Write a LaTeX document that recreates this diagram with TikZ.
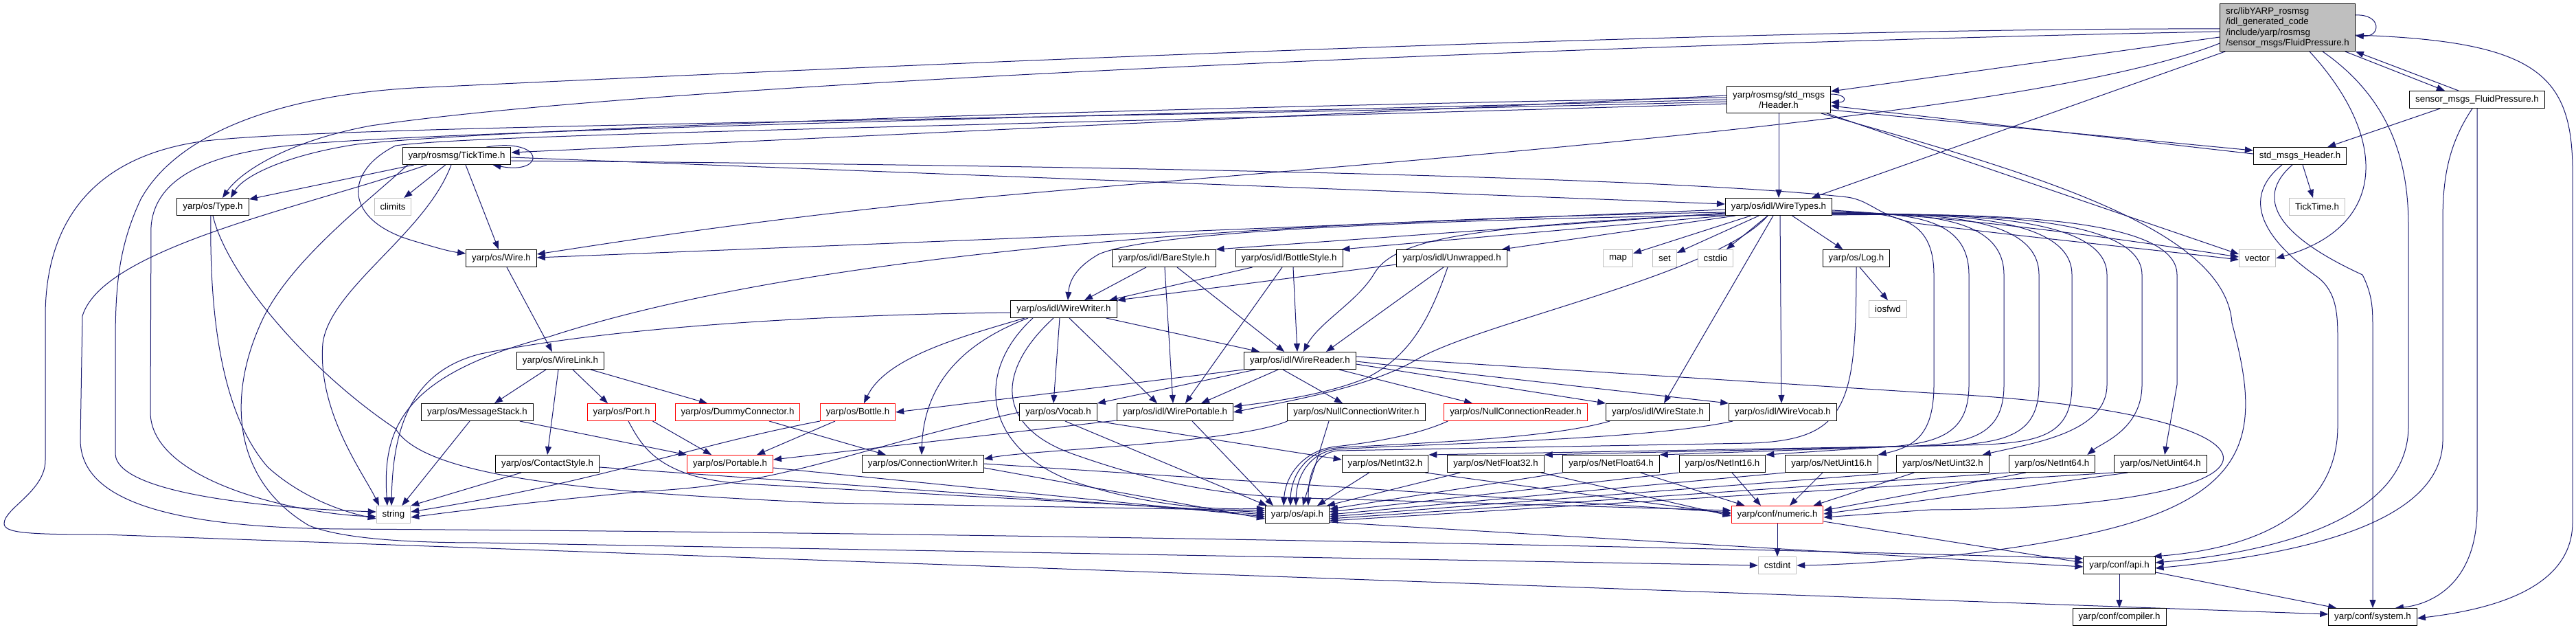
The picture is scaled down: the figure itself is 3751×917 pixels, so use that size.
\documentclass[tikz,border=0pt]{standalone}
\usepackage{fontspec}
\setmainfont{Liberation Sans}
\usetikzlibrary{arrows.meta,calc}
\definecolor{edgec}{HTML}{191970}
\definecolor{greyseven}{HTML}{BFBFBF}
\newcommand\nodefont{\fontsize{13.3}{15.5}\selectfont}
\pgfdeclarelayer{bglayer}
\pgfdeclarelayer{edgelayer}
\pgfsetlayers{bglayer,edgelayer,main}
\tikzset{
  fbox/.style={draw=black, line width=1pt, fill=white, minimum height=25pt, inner xsep=8.5pt, inner ysep=0pt, font=\nodefont, text=black},
  gbox/.style={fbox, draw=greyseven},
  rbox/.style={fbox, draw=red},
  mainbox/.style={fbox, fill=greyseven, align=left, minimum height=69pt},
  dep/.style={draw=edgec, line width=1pt, -{Triangle[length=12pt,width=9pt]}},
}
\begin{document}
\begin{tikzpicture}[x=1pt,y=-1pt]
\begin{pgfonlayer}{bglayer}
\fill[white] (0,0) rectangle (3751,917);
\end{pgfonlayer}
\useasboundingbox (0,0) rectangle (3751,917);
% ---------------- nodes
\node[mainbox] (fp) at (3331,40) {src/libYARP\_rosmsg\\/idl\_generated\_code\\/include/yarp/rosmsg\\/sensor\_msgs/FluidPressure.h};
\node[fbox, align=center, minimum height=39pt] (hdr) at (2590,145) {yarp/rosmsg/std\_msgs\\/Header.h};
\node[fbox] (sfp) at (3607,145) {sensor\_msgs\_FluidPressure.h};
\node[fbox] (tick) at (665,227) {yarp/rosmsg/TickTime.h};
\node[fbox] (smh) at (3349,227) {std\_msgs\_Header.h};
\node[fbox] (type) at (310,301) {yarp/os/Type.h};
\node[gbox] (climits) at (572,301) {climits};
\node[fbox] (wtypes) at (2590,301) {yarp/os/idl/WireTypes.h};
\node[gbox] (tickx) at (3374,301) {TickTime.h};
\node[fbox] (wire) at (730,376) {yarp/os/Wire.h};
\node[fbox] (bare) at (1695,376) {yarp/os/idl/BareStyle.h};
\node[fbox] (bstyle) at (1877,376) {yarp/os/idl/BottleStyle.h};
\node[fbox] (unwr) at (2114,376) {yarp/os/idl/Unwrapped.h};
\node[gbox] (map) at (2356,376) {map};
\node[gbox] (set) at (2424,376) {set};
\node[gbox] (cstdio) at (2498,376) {cstdio};
\node[fbox] (log) at (2703,376) {yarp/os/Log.h};
\node[gbox] (vector) at (3287,376) {vector};
\node[fbox] (wwriter) at (1549,450) {yarp/os/idl/WireWriter.h};
\node[gbox] (iosfwd) at (2749,450) {iosfwd};
\node[fbox] (wlink) at (816,525) {yarp/os/WireLink.h};
\node[fbox] (wreader) at (1893,525) {yarp/os/idl/WireReader.h};
\node[fbox] (mstack) at (695,600) {yarp/os/MessageStack.h};
\node[rbox] (port) at (905,600) {yarp/os/Port.h};
\node[rbox] (dummy) at (1074,600) {yarp/os/DummyConnector.h};
\node[rbox] (bottle) at (1249,600) {yarp/os/Bottle.h};
\node[fbox] (vocab) at (1541,600) {yarp/os/Vocab.h};
\node[fbox] (wport) at (1711,600) {yarp/os/idl/WirePortable.h};
\node[fbox] (ncw) at (1975,600) {yarp/os/NullConnectionWriter.h};
\node[rbox] (ncr) at (2207,600) {yarp/os/NullConnectionReader.h};
\node[fbox] (wstate) at (2414,600) {yarp/os/idl/WireState.h};
\node[fbox] (wvocab) at (2596,600) {yarp/os/idl/WireVocab.h};
\node[fbox] (contact) at (797,675) {yarp/os/ContactStyle.h};
\node[rbox] (portable) at (1063,675) {yarp/os/Portable.h};
\node[fbox] (cwriter) at (1344,675) {yarp/os/ConnectionWriter.h};
\node[fbox] (ni32) at (2017,675) {yarp/os/NetInt32.h};
\node[fbox] (nf32) at (2178,675) {yarp/os/NetFloat32.h};
\node[fbox] (nf64) at (2346,675) {yarp/os/NetFloat64.h};
\node[fbox] (ni16) at (2508,675) {yarp/os/NetInt16.h};
\node[fbox] (nu16) at (2667,675) {yarp/os/NetUint16.h};
\node[fbox] (nu32) at (2829,675) {yarp/os/NetUint32.h};
\node[fbox] (ni64) at (2988,675) {yarp/os/NetInt64.h};
\node[fbox] (nu64) at (3146,675) {yarp/os/NetUint64.h};
\node[gbox] (string) at (573,749) {string};
\node[fbox] (osapi) at (1889,749) {yarp/os/api.h};
\node[rbox] (numeric) at (2588,749) {yarp/conf/numeric.h};
\node[gbox] (cstdint) at (2588,823) {cstdint};
\node[fbox] (confapi) at (3086,823) {yarp/conf/api.h};
\node[fbox] (compiler) at (3086,898) {yarp/conf/compiler.h};
\node[fbox] (system) at (3455,898) {yarp/conf/system.h};
% ---------------- edges
\begin{pgfonlayer}{edgelayer}
% main file
\draw[dep] ($(fp.east)+(0,-18)$) .. controls +(38,-2) and +(38,2) .. ($(fp.east)+(0,12)$);
\draw[dep] ($(fp.west)+(0,14)$) -- ($(hdr.east)+(0,-12)$);
\draw[dep] ($(fp.south west)+(8,0)$) -- ($(wtypes.north east)+(-30,0)$);
\draw[dep] ($(fp.west)+(0,23)$) .. controls (2950,175) and (2000,235) .. (1400,290) .. controls (1100,320) and (900,352) .. ($(wire.east)+(0,-6)$);
\draw[dep] ($(fp.west)+(0,6)$) .. controls (2500,60) and (1000,115) .. (540,183) .. controls (420,205) and (350,250) .. ($(type.north)+(14,0)$);
\draw[dep] ($(fp.west)+(0,2)$) .. controls (2500,40) and (1200,100) .. (624,127) .. controls (420,135) and (260,190) .. (205,290) .. controls (172,360) and (168,420) .. (168,500) -- (168,660) .. controls (168,720) and (400,740) .. ($(string.west)+(0,-4)$);
\draw[dep] ($(fp.south)+(32,0)$) .. controls (3478,200) and (3478,330) .. (vector.east);
\draw[dep] ($(fp.south)+(51,0)$) .. controls (3490,150) and (3507,250) .. (3507,330) -- (3507,620) .. controls (3507,760) and (3300,805) .. ($(confapi.east)+(0,-4)$);
\draw[dep] ($(fp.east)+(0,11)$) .. controls (3700,60) and (3748,110) .. (3746,260) -- (3746,760) .. controls (3746,860) and (3620,888) .. ($(system.east)+(0,2)$);
\draw[dep] ($(fp.south east)+(-15,0)$) -- ($(sfp.north)+(-47,0)$);
% sensor_msgs_FluidPressure.h
\draw[dep] ($(sfp.north)+(-27,0)$) -- (fp.south east);
\draw[dep] ($(sfp.south west)+(45,0)$) -- ($(smh.north east)+(-28,0)$);
\draw[dep] ($(sfp.south)+(-7,0)$) .. controls (3565,210) and (3557,260) .. (3557,320) -- (3557,640) .. controls (3557,770) and (3320,810) .. ($(confapi.east)+(0,4)$);
\draw[dep] (sfp.south) -- (3607,740) .. controls (3607,850) and (3540,880) .. ($(system.north east)+(-32,0)$);
% std_msgs_Header.h
\draw[dep] ($(smh.west)+(0,-3)$) -- ($(hdr.east)+(0,9)$);
\draw[dep] ($(hdr.east)+(0,15)$) -- ($(smh.west)+(0,-8)$);
\draw[dep] ($(smh.south)+(4,0)$) -- ($(tickx.north)+(-6,0)$);
\draw[dep] ($(smh.south)+(-11,0)$) .. controls (3280,290) and (3320,345) .. (3440,400) .. controls (3455,430) and (3455,450) .. (3455,480) -- (system.north);
\draw[dep] ($(smh.south)+(-26,0)$) .. controls (3260,290) and (3300,350) .. (3370,400) .. controls (3400,420) and (3404,450) .. (3404,490) -- (3404,620) .. controls (3404,760) and (3260,800) .. ($(confapi.north east)+(-3,0)$);
% Header.h
\draw[dep] ($(hdr.east)+(0,-8)$) .. controls +(24,0) and +(24,0) .. ($(hdr.east)+(0,4)$);
\draw[dep] (hdr) -- (wtypes);
\draw[dep] ($(hdr.south east)+(-6,0)$) -- ($(vector.west)+(0,-6)$);
\draw[dep] ($(hdr.south east)+(-14,0)$) .. controls (2950,250) and (3240,330) .. (3250,470) .. controls (3290,620) and (3290,720) .. (3050,775) .. controls (2900,810) and (2700,822) .. (cstdint.east);
\draw[dep] ($(hdr.west)+(0,-6)$) -- ($(tick.east)+(0,-5)$);
\draw[dep] ($(hdr.west)+(0,-3)$) .. controls (1500,160) and (700,190) .. (520,210) .. controls (420,225) and (355,255) .. ($(type.north)+(26,0)$);
\draw[dep] (hdr.west) .. controls (1500,170) and (600,192) .. (420,212) .. controls (300,225) and (225,260) .. (220,330) -- (219,600) .. controls (219,700) and (430,748) .. ($(string.west)+(0,3)$);
\draw[dep] ($(hdr.west)+(0,3)$) .. controls (1500,175) and (500,182) .. (300,205) .. controls (120,228) and (66,340) .. (66,460) -- (66,670) .. controls (66,715) and (6,740) .. (6,762) .. controls (6,776) and (40,778) .. (150,778) -- ($(system.west)+(0,-4)$);
\draw[dep] ($(hdr.west)+(0,6)$) .. controls (1400,185) and (700,195) .. (576,212) .. controls (500,250) and (500,320) .. (600,350) .. controls (640,362) and (655,366) .. ($(wire.west)+(0,-7)$);
% TickTime.h
\draw[dep] ($(tick.north east)+(-36,0)$) .. controls (795,200) and (795,255) .. ($(tick.south east)+(-27,0)$);
\draw[dep] (tick) -- (type);
\draw[dep] (tick) -- (climits);
\draw[dep] ($(tick.south)+(13,0)$) -- ($(wire.north)+(-4,0)$);
\draw[dep] ($(tick.east)+(0,2)$) -- ($(wtypes.west)+(0,-4)$);
\draw[dep] ($(tick.east)+(0,7)$) .. controls (1500,240) and (2400,255) .. (2690,287) .. controls (2725,292) and (2735,315) .. (2790,325) .. controls (2950,345) and (3150,365) .. ($(vector.west)+(0,2)$);
\draw[dep] ($(tick.south)+(-8,0)$) .. controls (620,340) and (480,420) .. (470,500) .. controls (462,600) and (530,690) .. ($(string.north)+(-21,0)$);
\draw[dep] ($(tick.south west)+(8,0)$) .. controls (540,290) and (420,380) .. (380,470) .. controls (330,580) and (340,700) .. (450,765) .. controls (500,785) and (600,790) .. (700,790) -- (cstdint.west);
\draw[dep] ($(tick.south west)+(36,0)$) .. controls (450,300) and (150,360) .. (120,460) -- (117,640) .. controls (117,730) and (250,768) .. (500,770) .. controls (1500,776) and (2500,797) .. ($(confapi.west)+(0,-10)$);
% WireTypes.h
\draw[dep] ($(wtypes.west)+(0,4)$) -- ($(wire.east)+(0,-1)$);
\draw[dep] ($(wtypes.west)+(0,9)$) -- (bare.north east);
\draw[dep] (wtypes.south west) -- ($(bstyle.north east)+(-2,0)$);
\draw[dep] ($(wtypes.south west)+(15,0)$) -- ($(unwr.north east)+(-8,0)$);
\draw[dep] (wtypes) -- (map);
\draw[dep] (wtypes) -- (set);
\draw[dep] (wtypes) -- (cstdio);
\draw[dep] (wtypes) -- (log);
\draw[dep] ($(wtypes.east)+(0,5)$) .. controls (2900,320) and (3100,350) .. ($(vector.west)+(0,-2)$);
\draw[dep] ($(wtypes.west)+(0,8)$) .. controls (1900,320) and (1200,360) .. (800,490) .. controls (590,545) and (556,620) .. ($(string.north)+(-9,0)$);
\draw[dep] ($(wtypes.west)+(0,12)$) .. controls (2100,320) and (1680,335) .. (1600,370) .. controls (1565,390) and (1557,410) .. ($(wwriter.north)+(6,0)$);
\draw[dep] ($(wtypes.west)+(0,10)$) .. controls (2150,330) and (2030,345) .. (2000,400) .. controls (1975,440) and (1920,470) .. ($(wreader.north)+(5,0)$);
\draw[dep] ($(wtypes.south)+(-16,0)$) .. controls (2500,400) and (2150,470) .. (2060,525) .. controls (1990,565) and (1870,585) .. (wport.east);
\draw[dep] ($(wtypes.south)+(-8,0)$) -- ($(wstate.north)+(9,0)$);
\draw[dep] ($(wtypes.south)+(2,0)$) -- ($(wvocab.north)+(-2,0)$);
\draw[dep] ($(wtypes.east)+(0,7)$) .. controls (2760,310) and (2816,315) .. (2816,400) -- (2816,560) .. controls (2816,630) and (2790,650) .. (nu16.north east);
\draw[dep] ($(wtypes.east)+(0,8)$) .. controls (2780,310) and (2867,315) .. (2867,400) -- (2867,560) .. controls (2867,635) and (2820,648) .. (2720,652) -- (ni16.north east);
\draw[dep] ($(wtypes.east)+(0,9)$) .. controls (2800,310) and (2918,315) .. (2918,400) -- (2918,560) .. controls (2918,635) and (2870,648) .. (2760,650) -- (nf64.north east);
\draw[dep] ($(wtypes.east)+(0,10)$) .. controls (2820,310) and (2969,315) .. (2969,400) -- (2969,560) .. controls (2969,635) and (2920,647) .. (2810,649) -- (nf32.north east);
\draw[dep] ($(wtypes.east)+(0,10)$) .. controls (2840,310) and (3017,315) .. (3017,400) -- (3017,560) .. controls (3017,635) and (2970,646) .. (2860,648) -- (ni32.north east);
\draw[dep] ($(wtypes.east)+(0,11)$) .. controls (2860,310) and (3068,315) .. (3068,400) -- (3068,560) .. controls (3068,630) and (2960,645) .. ($(nu32.north east)+(-10,0)$);
\draw[dep] ($(wtypes.east)+(0,11)$) .. controls (2880,310) and (3119,315) .. (3119,400) -- (3119,560) .. controls (3119,625) and (3060,645) .. ($(ni64.north east)+(-12,0)$);
\draw[dep] ($(wtypes.east)+(0,12)$) .. controls (2900,310) and (3170,315) .. (3170,400) -- (3170,560) -- ($(nu64.north)+(6,0)$);
% Type.h, Wire.h, Log.h
\draw[dep] (type.south) .. controls (330,400) and (450,540) .. (576,624) .. controls (620,700) and (900,718) .. (1200,732) -- ($(osapi.west)+(0,-6)$);
\draw[dep] ($(type.south)+(-3,0)$) .. controls (305,450) and (320,600) .. (390,680) .. controls (440,725) and (500,745) .. ($(string.west)+(0,6)$);
\draw[dep] ($(wire.south)+(8,0)$) -- ($(wlink.north)+(-12,0)$);
\draw[dep] ($(log.south)+(5,0)$) -- (iosfwd.north);
\draw[dep] (log.south) .. controls (2703,590) and (2690,640) .. (2550,645) -- (1947,656) .. controls (1915,660) and (1905,690) .. ($(osapi.north)+(16,0)$);
% style headers
\draw[dep] ($(bare.south)+(-26,0)$) -- ($(wwriter.north)+(30,0)$);
\draw[dep] ($(bare.south)+(1,0)$) -- ($(wport.north)+(-3,0)$);
\draw[dep] ($(bare.south)+(19,0)$) -- ($(wreader.north west)+(59,0)$);
\draw[dep] ($(bstyle.south west)+(25,0)$) -- ($(wwriter.north)+(66,0)$);
\draw[dep] ($(bstyle.south)+(-10,0)$) -- ($(wport.north)+(15,0)$);
\draw[dep] ($(bstyle.south)+(6,0)$) -- ($(wreader.north)+(-4,0)$);
\draw[dep] ($(unwr.west)+(0,9)$) -- (wwriter.north east);
\draw[dep] ($(unwr.south)+(-12,0)$) -- ($(wreader.north)+(38,0)$);
\draw[dep] ($(unwr.south)+(-6,0)$) .. controls (2080,470) and (2050,520) .. (1990,550) .. controls (1930,575) and (1850,585) .. ($(wport.east)+(0,-8)$);
% WireWriter.h
\draw[dep] ($(wwriter.south east)+(-16,0)$) -- ($(wreader.north west)+(23,0)$);
\draw[dep] ($(wwriter.south)+(-57,0)$) .. controls (1400,490) and (1290,520) .. ($(bottle.north)+(9,0)$);
\draw[dep] ($(wwriter.south)+(-52,0)$) .. controls (1400,500) and (1345,560) .. ($(cwriter.north)+(-2,0)$);
\draw[dep] ($(wwriter.south)+(-6,0)$) -- ($(vocab.north)+(-7,0)$);
\draw[dep] ($(wwriter.south)+(8,0)$) -- ($(wport.north)+(-26,0)$);
\draw[dep] ($(wwriter.south)+(-45,0)$) .. controls (1420,540) and (1430,650) .. (1560,700) .. controls (1680,740) and (1780,742) .. ($(osapi.west)+(0,-9)$);
\draw[dep] ($(wwriter.south)+(-15,0)$) .. controls (1450,540) and (1450,620) .. (1560,660) .. controls (1700,710) and (1800,722) .. (1900,725) -- ($(numeric.west)+(0,-6)$);
\draw[dep] ($(wwriter.west)+(0,5)$) .. controls (1200,458) and (900,475) .. (700,515) .. controls (600,540) and (572,620) .. ($(string.north)+(-3,0)$);
% WireReader.h
\draw[dep] ($(wreader.south)+(-25,0)$) -- ($(ncw.north)+(-20,0)$);
\draw[dep] ($(wreader.south east)+(-25,0)$) -- ($(ncr.north)+(-63,0)$);
\draw[dep] ($(wreader.east)+(0,5)$) -- (wstate.north west);
\draw[dep] ($(wreader.east)+(0,1)$) -- (wvocab.north west);
\draw[dep] ($(wreader.south west)+(50,0)$) -- ($(wport.north east)+(-47,0)$);
\draw[dep] ($(wreader.south west)+(17,0)$) -- (vocab.north east);
\draw[dep] (wreader.south west) -- (bottle.east);
\draw[dep] ($(wreader.east)+(0,-6)$) -- (2810,572) .. controls (3380,600) and (3380,740) .. (2810,742) -- ($(numeric.east)+(0,4)$);
% WireLink.h
\draw[dep] ($(wlink.south)+(-21,0)$) -- ($(mstack.north)+(25,0)$);
\draw[dep] ($(wlink.south)+(-3,0)$) -- (contact.north);
\draw[dep] ($(wlink.south)+(18,0)$) -- ($(port.north)+(-20,0)$);
\draw[dep] ($(wlink.south east)+(-20,0)$) -- ($(dummy.north)+(-44,0)$);
% MessageStack, Port, DummyConnector, Bottle, Vocab, WirePortable
\draw[dep] ($(mstack.south)+(-11,0)$) -- ($(string.north east)+(-13,0)$);
\draw[dep] ($(mstack.south east)+(-20,0)$) -- (portable.north west);
\draw[dep] ($(port.south east)+(-5,0)$) -- ($(portable.north)+(-27,0)$);
\draw[dep] ($(port.south)+(10,0)$) .. controls (935,650) and (960,700) .. (1100,705) -- ($(osapi.west)+(0,-3)$);
\draw[dep] ($(dummy.south)+(46,0)$) -- ($(cwriter.north west)+(35,0)$);
\draw[dep] ($(bottle.south)+(-33,0)$) -- ($(portable.north)+(39,0)$);
\draw[dep] (bottle.south west) .. controls (1000,650) and (880,700) .. ($(string.east)+(0,-4)$);
\draw[dep] (vocab.south east) -- ($(ni32.west)+(0,-6)$);
\draw[dep] (vocab.west) .. controls (1250,650) and (1150,705) .. (940,715) .. controls (800,728) and (680,742) .. ($(string.east)+(0,4)$);
\draw[dep] ($(vocab.south)+(10,0)$) -- ($(osapi.north west)+(3,0)$);
\draw[dep] ($(wport.south west)+(0,-1)$) -- ($(portable.east)+(0,-6)$);
\draw[dep] ($(wport.south)+(25,0)$) -- ($(osapi.north west)+(12,0)$);
% Null connection, WireState, WireVocab
\draw[dep] (ncw.south west) .. controls (1800,645) and (1500,655) .. ($(cwriter.east)+(0,-7)$);
\draw[dep] ($(ncw.south)+(-40,0)$) -- ($(osapi.north)+(8,0)$);
\draw[dep] ($(ncr.south west)+(6,0)$) .. controls (2060,635) and (1990,645) .. (1945,650) .. controls (1900,655) and (1872,690) .. ($(osapi.north)+(-20,0)$);
\draw[dep] ($(wstate.south west)+(6,0)$) .. controls (2250,640) and (2050,645) .. (1945,652) .. controls (1905,656) and (1880,690) .. ($(osapi.north)+(-10,0)$);
\draw[dep] ($(wvocab.south west)+(6,0)$) .. controls (2400,640) and (2100,645) .. (1946,654) .. controls (1910,658) and (1888,690) .. ($(osapi.north)+(-2,0)$);
% ContactStyle, Portable, ConnectionWriter
\draw[dep] ($(contact.south west)+(38,0)$) -- (string.north east);
\draw[dep] ($(contact.east)+(0,5)$) -- (osapi.west);
\draw[dep] ($(portable.east)+(0,6)$) -- ($(osapi.west)+(0,3)$);
\draw[dep] ($(cwriter.east)+(0,6)$) -- ($(osapi.west)+(0,6)$);
\draw[dep] (cwriter.east) -- ($(numeric.west)+(0,-3)$);
% Net types
\draw[dep] ($(ni32.south west)+(40,0)$) -- ($(osapi.north east)+(-18,0)$);
\draw[dep] ($(ni32.south east)+(-5,0)$) -- ($(numeric.west)+(0,-1)$);
\draw[dep] ($(nf32.south west)+(19,0)$) -- ($(osapi.north east)+(-4,0)$);
\draw[dep] ($(nf32.south east)+(-5,0)$) -- ($(numeric.west)+(0,2)$);
\draw[dep] (nf64.south west) -- ($(osapi.east)+(0,-8)$);
\draw[dep] ($(nf64.south east)+(-28,0)$) -- ($(numeric.north west)+(20,0)$);
\draw[dep] (ni16.south west) -- ($(osapi.east)+(0,-4)$);
\draw[dep] ($(ni16.south)+(14,0)$) -- ($(numeric.north)+(-24,0)$);
\draw[dep] (nu16.south west) -- (osapi.east);
\draw[dep] ($(nu16.south)+(-13,0)$) -- ($(numeric.north)+(18,0)$);
\draw[dep] (nu32.south west) -- ($(osapi.east)+(0,3)$);
\draw[dep] ($(nu32.south west)+(26,0)$) -- ($(numeric.north east)+(-15,0)$);
\draw[dep] (ni64.south west) -- ($(osapi.east)+(0,6)$);
\draw[dep] ($(ni64.south west)+(25,0)$) -- ($(numeric.east)+(0,-6)$);
\draw[dep] (nu64.south west) -- ($(osapi.east)+(0,9)$);
\draw[dep] ($(nu64.south west)+(20,0)$) -- ($(numeric.east)+(0,-1)$);
% api / numeric / conf
\draw[dep] ($(osapi.east)+(0,11)$) -- ($(confapi.west)+(0,2)$);
\draw[dep] (numeric) -- (cstdint);
\draw[dep] ($(numeric.south east)+(0,-3)$) -- ($(confapi.west)+(0,-4)$);
\draw[dep] (confapi) -- (compiler);
\draw[dep] ($(confapi.south east)+(0,-3)$) -- ($(system.north west)+(12,0)$);
\end{pgfonlayer}
\end{tikzpicture}
\end{document}
